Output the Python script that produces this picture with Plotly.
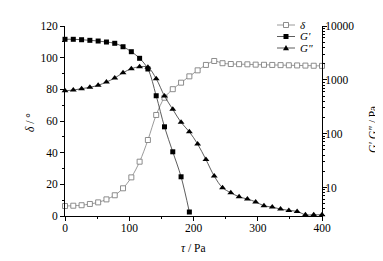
import plotly.graph_objects as go

tau_step = 400 / 31
tau = [round(i * tau_step, 2) for i in range(32)]

delta = [6.3, 6.5, 6.8, 7.6, 8.6, 10.5, 13.1, 17.5, 24.4, 34.3, 48.0, 63.8,
         74.7, 80.1, 84.2, 88.2, 92.0, 95.4, 97.9, 96.5, 96.0, 95.9, 95.8,
         95.6, 95.5, 95.4, 95.3, 95.2, 95.1, 95.0, 94.9, 94.8]

g1 = [5660, 5660, 5560, 5420, 5260, 5040, 4770, 4120, 3330, 2510, 1590,
      506, 134, 46, 15.8, 3.5]

g2 = [627, 646, 684, 726, 791, 910, 1080, 1354, 1608, 1750, 1706, 1048,
      500, 283, 162, 108, 64, 33, 16.3, 9.9, 8.0, 6.7, 6.1, 5.4, 4.57,
      4.32, 3.97, 3.75, 3.59, 3.11, 3.11, 3.11]

legend_labels = ["<i>δ</i>", "<i>G'</i>", "<i>G\"</i>"]

FONT = "Times New Roman, Liberation Serif, serif"
OFF = 8  # page body margin
W, H = 383 - OFF, 261 - OFF
# plot area in window pixels: x 65..322, y 26..216
L, R, T, B = 65 - OFF, 383 - 322, 26 - OFF, 261 - 216
PW, PH = W - L - R, H - T - B

def px(x):
    return (x - OFF - L) / PW

def py(y):
    return (H - B - (y - OFF)) / PH

fig = go.Figure()

DGRAY = "#808080"
fig.add_trace(go.Scatter(
    x=tau, y=delta, mode="lines+markers", showlegend=False,
    line=dict(color=DGRAY, width=0.8, shape="spline"),
    marker=dict(symbol="square", size=5, color="white", line=dict(width=0.9, color=DGRAY)),
    cliponaxis=False))
fig.add_trace(go.Scatter(
    x=tau[:len(g1)], y=g1, mode="lines+markers", yaxis="y2", showlegend=False,
    line=dict(color="#333333", width=0.8, shape="spline"),
    marker=dict(symbol="square", size=5, color="black"),
    cliponaxis=False))
fig.add_trace(go.Scatter(
    x=tau, y=g2, mode="lines+markers", yaxis="y2", showlegend=False,
    line=dict(color="#333333", width=0.8, shape="spline"),
    marker=dict(symbol="triangle-up", size=6, color="black"),
    cliponaxis=False))

axis_common = dict(showline=True, linecolor="black", linewidth=1, ticks="outside",
                   ticklen=4, tickcolor="black", showgrid=False, zeroline=False,
                   tickfont=dict(family=FONT, size=11.5, color="black"))

shapes = []
annotations = []
# manual legend
rows = [25, 36.5, 48]
for i, (yy, lab) in enumerate(zip(rows, legend_labels)):
    col = DGRAY if i == 0 else "#333333"
    shapes.append(dict(type="line", xref="paper", yref="paper",
                       x0=px(277), x1=px(295), y0=py(yy), y1=py(yy),
                       line=dict(color=col, width=0.8)))
    if i == 0:
        shapes.append(dict(type="rect", xref="paper", yref="paper",
                           x0=px(283.5), x1=px(288.5), y0=py(yy + 2.5), y1=py(yy - 2.5),
                           fillcolor="white", line=dict(color=DGRAY, width=0.9)))
    elif i == 1:
        shapes.append(dict(type="rect", xref="paper", yref="paper",
                           x0=px(283.5), x1=px(288.5), y0=py(yy + 2.5), y1=py(yy - 2.5),
                           fillcolor="black", line=dict(color="black", width=0)))
    else:
        path = "M {} {} L {} {} L {} {} Z".format(
            px(283), py(yy + 2.3), px(289), py(yy + 2.3), px(286), py(yy - 3))
        shapes.append(dict(type="path", xref="paper", yref="paper", path=path,
                           fillcolor="black", line=dict(color="black", width=0)))
    annotations.append(dict(text=lab, xref="paper", yref="paper", x=px(298), y=py(yy),
                            xanchor="left", yanchor="middle", showarrow=False,
                            font=dict(family=FONT, size=11, color="black")))

annotations.append(dict(text="<i>τ</i> / Pa", xref="paper", yref="paper",
                        x=px(193), y=py(248), xanchor="center", yanchor="middle",
                        showarrow=False, font=dict(family=FONT, size=11.5, color="black")))
annotations.append(dict(text="<i>δ</i> / °", xref="paper", yref="paper",
                        x=px(30), y=py(123), xanchor="center", yanchor="middle",
                        textangle=-90, showarrow=False,
                        font=dict(family=FONT, size=11.5, color="black")))
annotations.append(dict(text="<i>G',G\"</i> / Pa", xref="paper", yref="paper",
                        x=px(374), y=py(130), xanchor="center", yanchor="middle",
                        textangle=-90, showarrow=False,
                        font=dict(family=FONT, size=11.5, color="black")))

fig.update_layout(
    width=W, height=H,
    margin=dict(l=L, r=R, t=T, b=B),
    paper_bgcolor="white", plot_bgcolor="white",
    font=dict(family=FONT, size=11.5, color="black"),
    showlegend=False,
    shapes=shapes, annotations=annotations,
    xaxis=dict(range=[0, 400], dtick=100, ticklabelstandoff=-3,
               minor=dict(dtick=50, ticks="outside", ticklen=2, tickcolor="black"),
               **axis_common),
    yaxis=dict(range=[0, 120], dtick=20,
               minor=dict(dtick=10, ticks="outside", ticklen=2, tickcolor="black"),
               **axis_common),
    yaxis2=dict(type="log", range=[0.47, 4], overlaying="y", side="right",
                ticklabelstandoff=-4,
                tickvals=[10, 100, 1000, 10000], ticktext=["10", "100", "1000", "10000"],
                minor=dict(ticks="outside", ticklen=2, tickcolor="black", dtick="D1"),
                **axis_common),
)

fig.write_html("out.html")
